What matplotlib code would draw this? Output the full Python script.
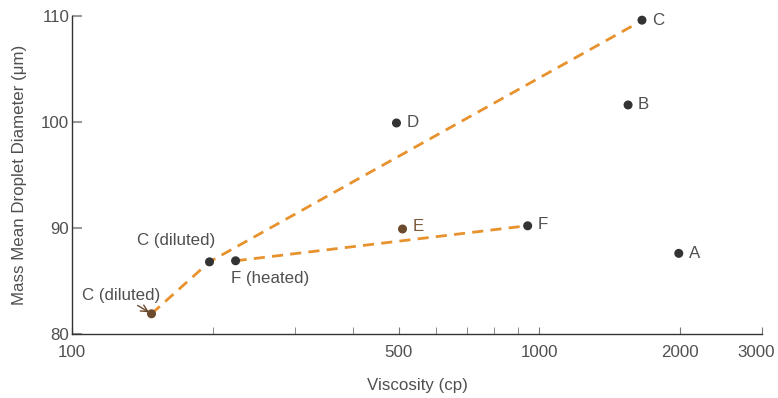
import matplotlib
matplotlib.use("Agg")
import matplotlib.pyplot as plt
from matplotlib.ticker import FixedLocator, FixedFormatter, NullFormatter

plt.rcParams['font.family'] = ['Liberation Sans', 'DejaVu Sans']

# Labelled samples: viscosity (cp) vs mass mean droplet diameter (um)
labels = ["C", "B", "D", "E", "F", "A", "C (diluted)", "F (heated)", "C (diluted)"]
viscosity = [1660, 1550, 495, 510, 945, 1990, 197, 224, 148]
diameter = [109.6, 101.6, 99.9, 89.9, 90.2, 87.6, 86.8, 86.9, 81.9]
point_colors = ["#333333", "#333333", "#333333", "#6b4a2e", "#333333",
                "#333333", "#333333", "#333333", "#6b4a2e"]

# Dashed trend paths
path_c_visc = [148, 197, 1620]
path_c_diam = [81.9, 86.8, 109.3]
path_f_visc = [224, 920]
path_f_diam = [86.9, 90.15]

x_ticks = [100, 500, 1000, 2000, 3000]
x_minor = [200, 300, 400, 600, 700, 800, 900]
y_ticks = [80, 90, 100, 110]

fig = plt.figure(figsize=(7.78, 3.98), dpi=100)
ax = fig.add_axes([0.0925, 0.161, 0.887, 0.799])
ax.set_xscale('log')
ax.set_xlim(100, 3000)
ax.set_ylim(80, 110)

orange = "#e8922e"
ax.plot(path_c_visc, path_c_diam, ls=(0, (4, 2.6)), color=orange, lw=2.0, zorder=2)
ax.plot(path_f_visc, path_f_diam, ls=(0, (4, 2.6)), color=orange, lw=2.0, zorder=2)

ax.scatter(viscosity, diameter, s=30, c=point_colors, zorder=3, clip_on=False)

txt = "#505050"
fs = 12.2
offsets = {
    0: (7, 0, 'left', 'center'),
    1: (7, 0, 'left', 'center'),
    2: (7, 0, 'left', 'center'),
    3: (7, 2, 'left', 'center'),
    4: (7, 1, 'left', 'center'),
    5: (7, 0, 'left', 'center'),
    6: (4, 10, 'right', 'bottom'),
    7: (-3, -7, 'left', 'top'),
}
for i, (dx, dy, ha, va) in offsets.items():
    color = "#7a5a3a" if i == 3 else txt
    ax.annotate(labels[i], (viscosity[i], diameter[i]), xytext=(dx, dy),
                textcoords='offset points', ha=ha, va=va, fontsize=fs, color=color)

# Lower "C (diluted)" label with a pointer to its point
ax.annotate(labels[8], (viscosity[8], diameter[8]), xytext=(6, 8),
            textcoords='offset points', ha='right', va='bottom', fontsize=fs, color=txt,
            arrowprops=dict(arrowstyle='->', color="#6b4a2e", lw=1.0,
                            shrinkA=0, shrinkB=2))

for side in ['top', 'right']:
    ax.spines[side].set_visible(False)
for side in ['left', 'bottom']:
    ax.spines[side].set_color("#333333")
    ax.spines[side].set_linewidth(1.0)

ax.xaxis.set_major_locator(FixedLocator(x_ticks))
ax.xaxis.set_major_formatter(FixedFormatter([str(v) for v in x_ticks]))
ax.xaxis.set_minor_locator(FixedLocator(x_minor))
ax.xaxis.set_minor_formatter(NullFormatter())
ax.tick_params(axis='x', which='both', direction='in', length=5, color="#777777",
               labelsize=fs, labelcolor=txt, pad=8)
ax.get_xticklabels()[-1].set_horizontalalignment('right')
ax.get_xticklabels()[-1].set_x(0)
ax.set_yticks(y_ticks)
ax.tick_params(axis='y', direction='in', length=7, width=1.5, color="#999999",
               labelsize=fs, labelcolor=txt, pad=2)

# Pull the last x tick label inside the figure edge
last = ax.get_xticklabels()[-1]
last.set_horizontalalignment('center')
offset = matplotlib.transforms.ScaledTranslation(-6 / 100, 0, fig.dpi_scale_trans)
last.set_transform(last.get_transform() + offset)

ax.set_xlabel("Viscosity (cp)", fontsize=fs, color=txt, labelpad=13)
ax.set_ylabel("Mass Mean Droplet Diameter (μm)", fontsize=fs, color=txt, labelpad=10)

fig.savefig("out.png", dpi=100)
